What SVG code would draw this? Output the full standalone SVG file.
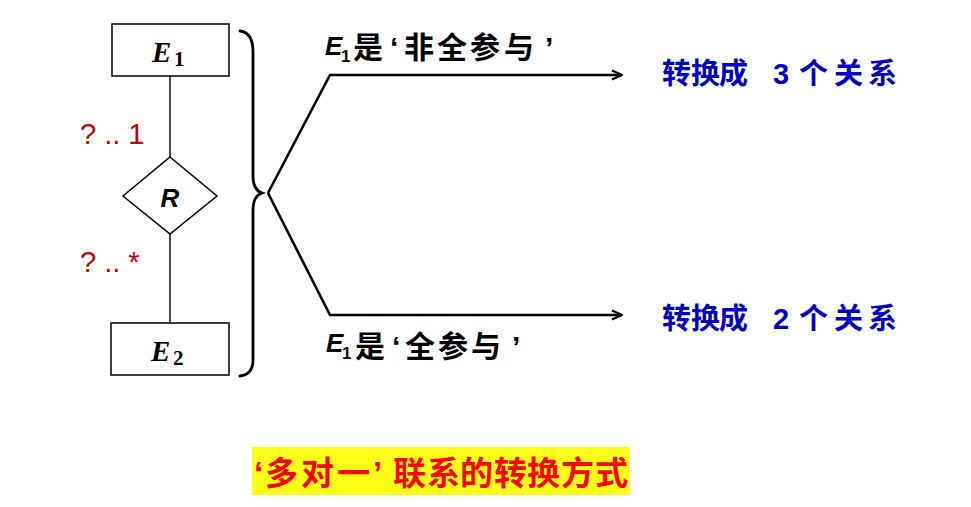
<svg xmlns="http://www.w3.org/2000/svg" width="971" height="507" viewBox="0 0 971 507">
<defs>
<style>
.box{fill:#fff;stroke:#000;stroke-width:1.5}
.ln{fill:none;stroke:#000;stroke-width:1.4}
.br{fill:none;stroke:#000;stroke-width:2.6;stroke-linejoin:miter}
.brace{fill:none;stroke:#000;stroke-width:2.8;stroke-linecap:round}
.ent{font-family:"Liberation Serif",serif;font-weight:bold;font-style:italic;font-size:29px;fill:#000}
.esub{font-style:normal;font-size:21px}
.card{font-family:"Liberation Sans",sans-serif;font-size:29px;fill:#C00000}
.rel{font-family:"Liberation Sans",sans-serif;font-weight:bold;font-style:italic;font-size:26px;fill:#000}
.lbl{font-family:"Liberation Sans","Noto Sans CJK SC",sans-serif;font-size:30px;font-weight:bold;fill:#000}
.ei{font-style:italic;font-size:26px}
.es{font-size:17px}
.res{font-family:"Liberation Sans","Noto Sans CJK SC",sans-serif;font-size:29px;font-weight:bold;fill:#0000C0}
.title{font-family:"Liberation Sans","Noto Sans CJK SC",sans-serif;font-size:33px;font-weight:bold;fill:#FF0000}
</style>
<marker id="arr" viewBox="0 0 12 12" refX="11" refY="6" markerWidth="12" markerHeight="12" orient="auto" markerUnits="userSpaceOnUse">
<path d="M1,1.5 L11,6 L1,10.5" fill="none" stroke="#000" stroke-width="2"/>
</marker>
</defs>
<rect width="971" height="507" fill="#fff"/>

<g id="connectors">
<line class="ln" x1="170" y1="76" x2="170" y2="157"/>
<line class="ln" x1="170" y1="234" x2="170" y2="323"/>
<polyline class="br" points="268,193 330,75 622,75" marker-end="url(#arr)"/>
<polyline class="br" points="268,193 330,315 622,315" marker-end="url(#arr)"/>
</g>

<g id="E1">
<rect class="box" x="112" y="24" width="117" height="52"/>
<text class="ent" x="152" y="62">E<tspan class="esub" x="174" y="66">1</tspan></text>
</g>

<g id="R">
<polygon class="box" points="170,157 217,196 170,234 123,196"/>
<text class="rel" x="170" y="207" text-anchor="middle">R</text>
</g>

<g id="E2">
<rect class="box" x="111" y="323" width="118" height="52"/>
<text class="ent" x="151" y="361">E<tspan class="esub" x="173" y="365">2</tspan></text>
</g>

<g id="cardinalities">
<text class="card" x="80" y="144" xml:space="preserve">? .. 1</text>
<text class="card" x="80" y="272" xml:space="preserve">? .. *</text>
</g>

<g id="brace">
<path class="brace" d="M240,31 C249,32 253,40 253,52 L253,176 C253,186 256,191 262,193 C256,195 253,200 253,210 L253,360 C253,370 249,375 240,376"/>
</g>

<g id="branch-labels">
<text class="lbl" y="58"><tspan class="ei" x="325" y="55">E</tspan><tspan class="es" x="341" y="62">1</tspan><tspan x="353" y="58">是</tspan><tspan x="390">‘</tspan><tspan x="404 437 470 504">非全参与</tspan><tspan x="545">’</tspan></text>
<text class="lbl" y="357"><tspan class="ei" x="326" y="352">E</tspan><tspan class="es" x="342" y="359">1</tspan><tspan x="355" y="357">是</tspan><tspan x="392">‘</tspan><tspan x="405 438 471">全参与</tspan><tspan x="512">’</tspan></text>
</g>

<g id="result-3">
<text class="res" y="84"><tspan x="662 691 719">转换成</tspan><tspan x="773">3</tspan><tspan x="799 834 868">个关系</tspan></text>
</g>
<g id="result-2">
<text class="res" y="329"><tspan x="662 691 719">转换成</tspan><tspan x="773">2</tspan><tspan x="799 834 868">个关系</tspan></text>
</g>

<g id="title">
<rect x="252" y="447" width="378" height="48" fill="#FFFF1A"/>
<text class="title" y="485"><tspan x="254">‘</tspan><tspan x="265 301 337">多对一</tspan><tspan x="373">’</tspan><tspan x="393 427 460 494 527 561 595">联系的转换方式</tspan></text>
</g>
</svg>
